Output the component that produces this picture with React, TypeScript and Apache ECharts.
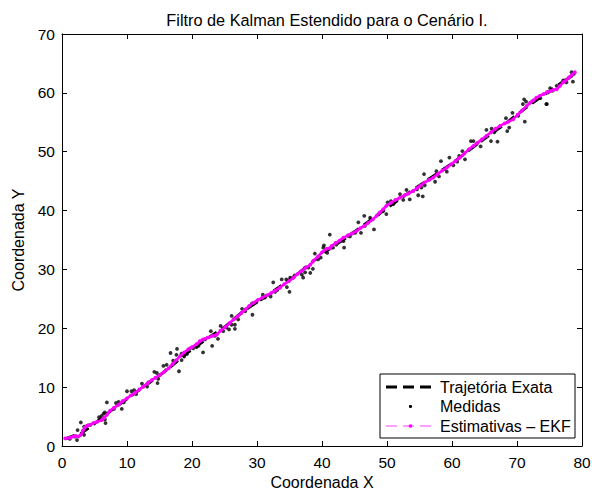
import React, { useEffect, useRef } from "react";
import * as echarts from "echarts";

const titleText = "Filtro de Kalman Estendido para o Cenário I.";
const xName = "Coordenada X";
const yName = "Coordenada Y";
const legendNames = ["Trajetória Exata", "Medidas", "Estimativas – EKF"];

const trueTrajectory: number[][] = [
  [0.5, 1.2], [3, 2.2], [5, 3.8], [8, 6.4], [12, 9.6], [16, 12.8], [19, 15.6],
  [22, 18.0], [25, 20.2], [28, 23.0], [32, 25.9], [36, 29.0], [40, 32.6],
  [44, 35.6], [48, 38.8], [52, 42.0], [56, 45.0], [60, 48.0], [64, 51.4],
  [68, 54.6], [72, 58.0], [75, 60.3], [78.9, 63.3],
];

const measurements: number[][] = [
  [1.2, 1.2], [2.0, 1.6], [2.3, 1.0], [2.4, 2.7], [2.9, 4.0], [3.4, 1.9], [3.4, 3.3],
  [4.0, 3.5], [4.4, 3.6], [5.7, 4.9], [6.1, 5.1], [6.4, 5.5], [6.6, 5.7], [6.9, 7.4],
  [6.7, 3.9], [6.6, 4.5], [8.0, 6.3], [8.3, 7.3], [8.7, 7.5], [9.2, 6.3], [9.5, 7.4],
  [10.0, 9.3], [10.7, 9.3], [11.1, 9.5], [11.4, 8.8], [12.3, 10.6], [12.5, 10.1],
  [13.1, 10.1], [13.3, 10.8], [14.2, 12.6], [14.6, 12.4], [14.7, 10.7], [14.8, 11.4],
  [15.6, 13.6], [16.0, 12.9], [16.1, 13.8], [16.7, 15.8], [17.1, 14.5], [17.6, 15.5],
  [17.7, 16.5], [18.0, 12.7], [18.4, 14.6], [18.8, 15.2], [19.2, 15.6],
  [18.4, 15.7], [19.7, 16.6], [20.2, 16.6], [20.7, 16.8], [21.0, 17.0], [21.7, 15.9],
  [22.0, 18.1], [22.9, 19.5], [23.1, 17.0], [23.5, 18.7], [24.0, 18.2], [24.4, 20.4],
  [24.8, 19.5], [25.3, 20.1], [25.7, 19.8], [26.1, 20.6], [26.1, 22.1], [26.6, 20.6],
  [26.6, 19.9], [27.1, 21.5], [27.7, 23.3], [28.2, 22.9], [29.3, 22.3], [29.2, 24.2],
  [29.7, 24.3], [29.9, 24.4], [30.9, 25.7], [31.2, 25.2], [32.1, 25.4], [32.5, 27.8],
  [32.8, 26.2], [33.1, 26.5], [33.5, 26.9], [33.8, 28.3], [34.5, 28.3], [34.6, 27.0],
  [35.0, 26.2], [35.1, 28.6], [35.6, 28.6], [35.8, 29.0], [36.9, 29.1], [37.4, 29.5],
  [37.9, 30.3], [37.1, 28.6],
  [37.4, 30.3], [38.2, 29.4], [38.6, 30.1], [38.9, 32.7], [39.4, 31.7], [39.8, 32.0],
  [40.2, 33.7], [40.3, 34.1], [40.8, 32.8], [41.2, 35.9], [41.7, 33.7], [42.2, 34.2],
  [42.8, 34.8], [43.4, 33.7], [43.3, 34.8], [44.0, 35.7], [44.3, 35.6], [45.1, 36.2],
  [45.6, 38.0], [46.0, 36.2], [46.5, 39.1], [46.6, 37.4], [47.4, 38.8], [47.5, 38.5],
  [48.0, 36.8], [48.7, 39.4], [49.4, 39.9], [49.9, 39.4], [50.1, 41.4], [50.6, 41.6],
  [51.0, 41.1], [51.5, 41.8], [52.0, 42.8], [52.5, 41.8], [53.0, 43.5], [53.5, 41.9],
  [54.0, 43.3], [54.6, 43.6], [54.8, 42.6], [55.3, 43.9], [55.8, 44.3],
  [55.5, 42.4], [55.7, 46.2], [56.4, 45.3], [57.4, 44.9], [57.6, 46.7], [58.0, 45.8],
  [58.3, 48.4], [58.9, 47.1], [59.2, 46.6], [59.6, 49.0], [60.2, 47.7], [60.8, 48.3],
  [61.1, 49.3], [61.6, 50.1], [62.0, 48.7], [62.9, 51.8], [63.3, 51.8], [63.8, 51.3],
  [64.4, 50.9], [65.3, 53.7], [66.0, 51.8], [66.1, 53.9], [66.5, 53.3], [67.0, 51.7],
  [68.3, 55.7], [68.5, 53.5], [68.8, 54.1], [69.3, 56.6], [70.2, 56.1], [70.9, 58.1],
  [71.1, 58.9], [71.4, 58.5], [71.2, 55.1], [72.3, 58.5], [73.0, 58.9], [73.6, 59.1],
  [74.5, 58.1], [74.8, 60.1], [75.5, 60.4],
  [77.1, 62.1], [77.9, 62.5], [78.3, 62.8], [78.4, 63.5], [78.6, 61.9], [77.6, 61.8],
  [75.1, 60.8], [74.6, 58.1], [76.1, 61.2], [75.3, 60.4],
];

const estimates: number[][] = [
  [0.5, 1.3], [1.2, 1.4], [1.7, 1.6], [2.1, 1.7], [2.5, 1.6], [2.9, 1.9], [3.2, 2.6],
  [3.5, 3.1], [3.8, 3.4], [4.3, 3.6], [4.8, 3.9], [5.4, 4.1], [6.1, 4.4], [6.5, 4.8],
  [6.9, 5.3], [7.4, 6.0], [8.0, 6.5], [8.7, 7.0], [9.3, 7.6], [10.0, 8.1], [10.6, 8.6],
  [11.2, 9.0], [11.9, 9.6], [12.5, 10.1], [13.1, 10.6], [13.8, 11.2], [14.4, 11.6],
  [15.1, 12.1], [15.7, 12.6], [16.4, 13.2], [17.0, 13.9], [17.6, 14.6], [18.2, 15.3],
  [18.8, 15.9], [19.4, 16.4], [20.0, 16.8], [20.7, 17.3], [21.2, 17.8], [21.7, 18.1],
  [22.4, 18.4], [23.1, 18.7], [23.8, 18.9], [24.4, 19.6], [25.1, 20.2], [25.8, 20.9],
  [26.4, 21.5], [27.0, 22.0], [27.6, 22.6], [28.2, 23.2], [28.8, 23.8], [29.4, 24.3],
  [30.1, 24.8], [30.8, 25.2], [31.5, 25.6], [32.2, 26.0], [32.8, 26.4], [33.5, 26.9],
  [34.2, 27.5], [34.9, 28.0], [35.6, 28.6], [36.2, 29.2], [36.9, 29.8], [37.5, 30.3],
  [38.2, 30.8], [38.7, 31.5], [39.4, 32.2], [40.0, 32.9], [40.7, 33.5], [41.2, 33.6],
  [41.5, 34.0], [42.1, 34.5], [42.7, 34.9], [43.3, 35.4], [44.0, 35.8], [44.6, 36.1],
  [45.3, 36.5], [45.9, 37.0], [46.5, 37.4], [47.1, 37.9], [47.8, 38.5], [48.4, 39.1],
  [48.9, 39.7], [49.4, 40.2], [49.9, 40.8], [50.6, 41.3], [51.3, 41.8], [52.0, 42.2],
  [52.7, 42.6], [53.3, 42.9], [54.0, 43.3], [54.6, 43.8], [55.1, 44.2], [55.8, 44.8],
  [56.5, 45.2], [57.1, 45.6], [57.8, 46.2], [58.5, 46.8], [59.2, 47.3], [59.9, 47.9],
  [60.5, 48.4], [61.2, 49.0], [61.9, 49.7], [62.6, 50.4], [63.3, 51.0], [63.9, 51.5],
  [64.6, 52.1], [65.3, 52.7], [66.0, 53.3], [66.7, 53.9], [67.4, 54.4], [68.1, 54.8],
  [68.7, 55.1], [69.4, 55.5], [70.1, 56.3], [70.8, 57.0], [71.5, 57.8], [72.0, 58.3],
  [72.5, 58.7], [73.0, 59.2], [73.5, 59.5], [74.1, 59.8], [74.6, 60.1], [75.1, 60.3],
  [75.6, 60.5], [76.1, 60.6], [76.6, 61.2], [77.1, 61.8], [77.6, 62.2], [78.1, 62.7],
  [78.5, 63.1], [78.9, 63.5],
];

const FONT = "'Liberation Sans', Arial, Helvetica, sans-serif";
const MAGENTA = "#ff00ff";

export default function App() {
  const ref = useRef<HTMLDivElement>(null);
  useEffect(() => {
    if (!ref.current) return;
    const chart = echarts.init(ref.current, undefined, { renderer: "svg" });
    const grid = {
      left: 62, right: 10, top: 34, bottom: 45,
      containLabel: false, outerBoundsMode: "none",
    };
    const axisCommon = {
      type: "value" as const,
      axisLine: { show: true, onZero: false, lineStyle: { color: "#000", width: 1 } },
      axisTick: { show: true, inside: true, length: 5, lineStyle: { color: "#000" } },
      splitLine: { show: false },
    };
    const lx = 380, ly = 374, lw = 195, lh = 64;
    const rowY = [387, 406.5, 426];
    chart.setOption({
      animation: false,
      backgroundColor: "#fff",
      title: {
        text: titleText,
        left: 322,
        top: 7,
        textAlign: "center",
        textStyle: { fontFamily: FONT, fontSize: 16.3, fontWeight: "normal", color: "#000" },
      },
      grid,
      xAxis: [
        {
          ...axisCommon, min: 0, max: 80, interval: 10, position: "bottom",
          name: xName, nameLocation: "middle", nameGap: 24,
          nameTextStyle: { fontFamily: FONT, fontSize: 16, color: "#000" },
          axisLabel: { fontFamily: FONT, fontSize: 15.5, color: "#000", margin: 8 },
        },
        {
          ...axisCommon, min: 0, max: 80, interval: 10, position: "top",
          axisLabel: { show: false },
        },
      ],
      yAxis: [
        {
          ...axisCommon, min: 0, max: 70, interval: 10, position: "left",
          name: yName, nameLocation: "middle", nameGap: 25, nameRotate: 90,
          nameTextStyle: { fontFamily: FONT, fontSize: 16, color: "#000" },
          axisLabel: { fontFamily: FONT, fontSize: 15.5, color: "#000", margin: 7 },
        },
        {
          ...axisCommon, min: 0, max: 70, interval: 10, position: "right",
          axisLabel: { show: false },
        },
      ],
      series: [
        {
          name: legendNames[0], type: "line", data: trueTrajectory, symbol: "none",
          lineStyle: { color: "#000", width: 3, type: [10, 6] }, z: 2,
        },
        {
          name: legendNames[1], type: "scatter", data: measurements, symbol: "circle",
          symbolSize: 3.8, itemStyle: { color: "#000" }, z: 3,
        },
        {
          name: legendNames[2], type: "line", data: estimates, symbol: "circle",
          symbolSize: 3.8, showSymbol: true, itemStyle: { color: MAGENTA },
          lineStyle: { color: MAGENTA, width: 2.6 }, z: 4,
        },
      ],
      graphic: [
        {
          type: "rect", shape: { x: lx, y: ly, width: lw, height: lh },
          style: { fill: "#fff", stroke: "#000", lineWidth: 1 }, z: 100,
        },
        {
          type: "line", shape: { x1: 386, y1: rowY[0], x2: 434, y2: rowY[0] },
          style: { stroke: "#000", lineWidth: 3, lineDash: [11, 6] }, z: 101,
        },
        {
          type: "circle", shape: { cx: 410.5, cy: rowY[1], r: 1.6 },
          style: { fill: "#000" }, z: 101,
        },
        {
          type: "line", shape: { x1: 386, y1: rowY[2], x2: 434, y2: rowY[2] },
          style: { stroke: "#ff80ff", lineWidth: 1.5, lineDash: [11, 6] }, z: 101,
        },
        {
          type: "circle", shape: { cx: 410.5, cy: rowY[2], r: 1.8 },
          style: { fill: MAGENTA }, z: 101,
        },
        ...legendNames.map((n, i) => ({
          type: "text", x: 440, y: rowY[i], z: 101,
          style: { text: n, fontFamily: FONT, fontSize: 16, fill: "#000", verticalAlign: "middle" },
        })),
      ],
    });
    return () => chart.dispose();
  }, []);
  return (
    <div
      ref={ref}
      style={{ position: "absolute", left: 0, top: 0, width: 592, height: 491 }}
    />
  );
}
